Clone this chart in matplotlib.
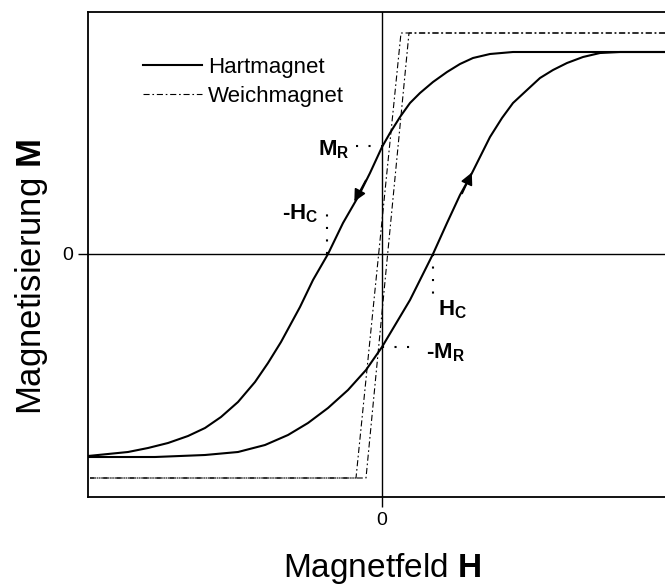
import matplotlib
matplotlib.use("Agg")
import matplotlib.pyplot as plt

plt.rcParams['font.family'] = ['Liberation Sans', 'DejaVu Sans']
plt.rcParams['mathtext.fontset'] = 'custom'
plt.rcParams['mathtext.rm'] = 'Liberation Sans'
plt.rcParams['mathtext.bf'] = 'Liberation Sans:bold'

# hard magnet, descending branch (from +saturation down)
hard_down_H = [283, 165, 131, 108, 91, 78, 65, 51, 38, 28, 18, 8, 0, -12, -24, -39,
               -54, -69, -82, -101, -114, -127, -144, -161, -177, -194, -214,
               -234, -254, -274, -294]
hard_down_M = [202, 202, 202, 200, 196, 190, 182, 172, 161, 151, 137, 121, 107, 81,
               57, 31, 0, -26, -53, -88, -109, -128, -148, -163, -174, -182, -189,
               -194, -198, -200, -202]

# hard magnet, ascending branch
hard_up_H = [-294, -227, -177, -144, -117, -94, -74, -54, -34, -16, 0, 28, 51, 65,
             78, 88, 98, 108, 120, 131, 145, 158, 171, 185, 201, 218, 238, 283]
hard_up_M = [-203, -203, -201, -198, -191, -181, -169, -154, -136, -116, -93, -46,
             0, 31, 59, 77, 97, 117, 136, 151, 164, 176, 184, 191, 197, 201, 202, 202]

# soft magnet loop
soft_down_H = [283, 19, -26, -292]
soft_down_M = [221, 221, -224, -224]
soft_up_H = [-292, -16, 27, 283]
soft_up_M = [-224, -224, 221, 221]

Mr = 108
neg_Mr = -93
Hc = 51
neg_Hc = -55

fig = plt.figure(figsize=(6.65, 5.86), dpi=100)
ax = fig.add_axes([88 / 665, 89 / 586, 577 / 665, 485 / 586])

ax.axhline(0, color='black', lw=1)
ax.axvline(0, color='black', lw=1)

soft_ls = (0, (5.5, 2.5, 1.5, 2.5))
ax.plot(hard_down_H, hard_down_M, color='black', lw=1.5, label='Hartmagnet',
        solid_joinstyle='round')
ax.plot(hard_up_H, hard_up_M, color='black', lw=1.5, solid_joinstyle='round')
ax.plot(soft_down_H, soft_down_M, color='black', lw=0.8, ls=soft_ls, label='Weichmagnet')
ax.plot(soft_up_H, soft_up_M, color='black', lw=0.8, ls=soft_ls)

# direction arrows on the hard loop
arr = dict(arrowstyle='-|>', color='black', lw=1.2, mutation_scale=18)
ax.annotate('', xy=(-29, 50), xytext=(-15, 76), arrowprops=arr)
ax.annotate('', xy=(91, 84), xytext=(79, 58), arrowprops=arr)

# dotted guides
dot = (0, (1, 5))
ax.plot([-26, 0], [Mr, Mr], color='black', lw=1.5, ls=dot)
ax.plot([0, 28], [neg_Mr, neg_Mr], color='black', lw=1.5, ls=dot)
ax.plot([neg_Hc, neg_Hc], [0, 42], color='black', lw=1.5, ls=dot)
ax.plot([Hc, Hc], [0, -40], color='black', lw=1.5, ls=dot)

ax.text(-32, 104, r'$\mathbf{M_R}$', fontsize=16, ha='right', va='center')
ax.text(-64, 40, r'-$\mathbf{H_C}$', fontsize=16, ha='right', va='center', fontweight='bold')
ax.text(56, -56, r'$\mathbf{H_C}$', fontsize=16, ha='left', va='center')
ax.text(44, -99, r'-$\mathbf{M_R}$', fontsize=16, ha='left', va='center', fontweight='bold')

ax.set_xlim(-294, 283)
ax.set_ylim(-243, 242)
ax.set_xticks([0])
ax.set_yticks([0])
ax.tick_params(labelsize=14, length=7, width=1, direction='out', pad=4)
ax.spines['right'].set_visible(False)
for s in ['left', 'top', 'bottom']:
    ax.spines[s].set_linewidth(1.3)

ax.legend(loc='upper left', bbox_to_anchor=(0.095, 0.908), frameon=False,
          fontsize=16, handlelength=2.65, handletextpad=0.27, labelspacing=0.38,
          borderpad=0, borderaxespad=0)

fig.text(382 / 665, 1 - 577 / 586, r'Magnetfeld $\mathbf{H}$', fontsize=24,
         ha='center', va='baseline')
fig.text(32 / 665, 1 - 277 / 586, r'Magnetisierung $\mathbf{M}$', fontsize=25,
         ha='center', va='center', rotation=90)

fig.savefig('out.png', dpi=100)
